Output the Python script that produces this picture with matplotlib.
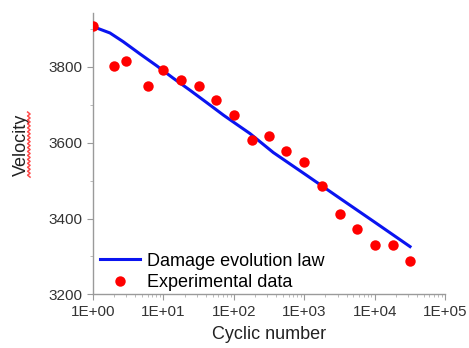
import numpy as np
import matplotlib
matplotlib.use('Agg')
import matplotlib.pyplot as plt
from matplotlib.ticker import LogLocator, FixedLocator, MultipleLocator, FuncFormatter

plt.rcParams['font.family'] = ['Liberation Sans', 'DejaVu Sans']

# experimental points
cycles = [1, 2, 3, 6, 10, 18, 32, 56, 100, 180, 320, 560, 1000, 1800, 3200, 5600, 10000, 18000, 32000]
velocity = [3908, 3801, 3815, 3748, 3792, 3764, 3749, 3712, 3673, 3607, 3617, 3578, 3548, 3487,
            3413, 3372, 3331, 3331, 3289]

# damage evolution law curve
law_cycles = [1, 1.75, 2.7, 4.65, 8, 13.8, 24, 41, 72, 123, 170, 364, 1080, 3230, 9560, 31800]
law_velocity = [3906, 3889, 3866, 3834, 3803, 3770, 3738, 3706, 3672, 3642, 3624, 3574, 3514,
                3453, 3393, 3326]

fig = plt.figure(figsize=(4.69, 3.48), dpi=100)
ax = fig.add_axes([0.198, 0.154, 0.751, 0.809])

ax.plot(law_cycles, law_velocity, color='#0a14f0', lw=2.2, label='Damage evolution law', zorder=2)
ax.plot(cycles, velocity, 'o', color='#ff0000', ms=7.5, mec='none', label='Experimental data',
        zorder=3)

ax.set_xscale('log')
ax.set_xlim(1, 1e5)
ax.set_ylim(3200, 3942)

ax.xaxis.set_major_locator(LogLocator(base=10, numticks=10))
ax.xaxis.set_minor_locator(LogLocator(base=10, subs=np.arange(2, 10), numticks=10))
ax.xaxis.set_major_formatter(FuncFormatter(lambda v, p: '1E+%02d' % int(round(np.log10(v)))))
ax.xaxis.set_minor_formatter(FuncFormatter(lambda v, p: ''))
ax.yaxis.set_major_locator(FixedLocator([3200, 3400, 3600, 3800]))
ax.yaxis.set_minor_locator(MultipleLocator(100))

for s in ['top', 'right']:
    ax.spines[s].set_visible(False)
for s in ['left', 'bottom']:
    ax.spines[s].set_color('#9a9a9a')
    ax.spines[s].set_linewidth(1.0)

ax.tick_params(which='major', direction='out', length=4, color='#9a9a9a', labelsize=11,
               labelcolor='#333333')
ax.tick_params(which='minor', direction='out', length=2.5, color='#b0b0b0')

ax.set_xlabel('Cyclic number', fontsize=13, color='#222222', labelpad=5)
ax.set_ylabel('Velocity', fontsize=13, color='#222222')
ax.yaxis.set_label_coords(-0.178, 0.532)

# spell-check squiggle next to the y label
n = 34
yy = np.linspace(0.491, 0.678, n)
xx = 0.0615 + 0.0026 * np.where(np.arange(n) % 2 == 0, 1, -1)
fig.add_artist(plt.Line2D(xx, yy, color='#ff2a2a', lw=1.1, alpha=0.85, transform=fig.transFigure))

ax.legend(loc='lower left', frameon=False, fontsize=13, handlelength=2.2, handletextpad=0.4,
          labelspacing=0.25, borderpad=0, borderaxespad=0, bbox_to_anchor=(0.02, 0.012))

fig.savefig('out.png', dpi=100)
